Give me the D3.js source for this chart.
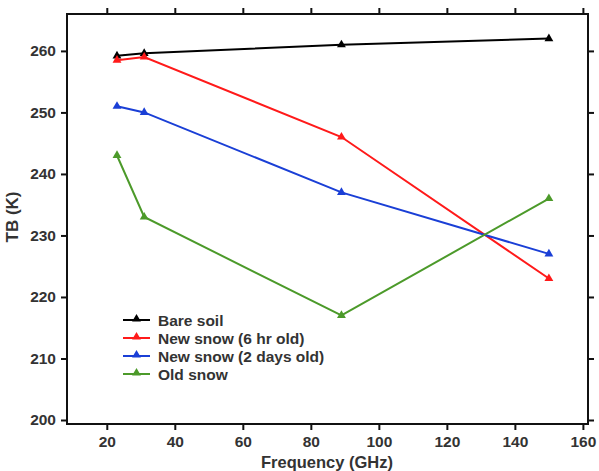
<!DOCTYPE html>
<html>
<head>
<meta charset="utf-8">
<script src="https://cdn.jsdelivr.net/npm/d3@7"></script>
<style>
  body { margin: 0; background: #fff; }
  text { font-family: "Liberation Sans", Arial, sans-serif; font-weight: bold; fill: #333; }
</style>
</head>
<body>
<svg id="chart" width="599" height="471"></svg>
<script>
// frequencies (GHz) and brightness temps
const freqs = [23, 31, 89, 150]
const bareSoil = [259.2, 259.6, 261, 262]
const newSnow6hr = [258.5, 259, 246, 223]
const newSnow2d = [251, 250, 237, 227]
const oldSnow = [243, 233, 217, 236]

const seriesNames = ["Bare soil", "New snow (6 hr old)", "New snow (2 days old)", "Old snow"]
const seriesColors = ["#000000", "#ff1a1a", "#1a3fd6", "#4c9a2a"]
const xTicks = [20, 40, 60, 80, 100, 120, 140, 160]
const yTicks = [200, 210, 220, 230, 240, 250, 260]

const series = [bareSoil, newSnow6hr, newSnow2d, oldSnow].map((vals, i) => ({
  name: seriesNames[i], color: seriesColors[i],
  pts: vals.map((v, j) => [freqs[j], v])
}))

const svg = d3.select("#chart")
const L = 67, R = 588, T = 14, B = 424

const x = d3.scaleLinear().domain([8.3, 161.5]).range([L, R])
const y = d3.scaleLinear().domain([199.35, 266]).range([B, T])

// axes (ticks outward on all four sides)
const axisStyle = g => {
  g.selectAll(".domain").remove()
  g.selectAll(".tick line").attr("stroke", "#111").attr("stroke-width", 2)
  g.selectAll(".tick text").style("font-size", "15.5px").attr("fill", "#333")
}
svg.append("g").attr("transform", `translate(0,${B})`)
  .call(d3.axisBottom(x).tickValues(xTicks).tickSize(6).tickPadding(6))
  .call(axisStyle)
svg.append("g").attr("transform", `translate(0,${T})`)
  .call(d3.axisTop(x).tickValues(xTicks).tickSize(6).tickFormat(""))
  .call(axisStyle)
svg.append("g").attr("transform", `translate(${L},0)`)
  .call(d3.axisLeft(y).tickValues(yTicks).tickSize(6).tickPadding(5))
  .call(axisStyle)
svg.append("g").attr("transform", `translate(${R},0)`)
  .call(d3.axisRight(y).tickValues(yTicks).tickSize(6).tickFormat(""))
  .call(axisStyle)

// frame
svg.append("rect").attr("x", L).attr("y", T).attr("width", R - L).attr("height", B - T)
  .attr("fill", "none").attr("stroke", "#111").attr("stroke-width", 2)

// lines + triangle markers
const line = d3.line().x(d => x(d[0])).y(d => y(d[1]))
const tri = d3.symbol().type(d3.symbolTriangle).size(34)

series.forEach(s => {
  svg.append("path").datum(s.pts).attr("d", line)
    .attr("fill", "none").attr("stroke", s.color).attr("stroke-width", 2)
  svg.append("g").selectAll("path").data(s.pts).enter()
    .append("path").attr("d", tri)
    .attr("transform", d => `translate(${x(d[0])},${y(d[1])})`)
    .attr("fill", s.color)
})

// legend
const leg = svg.append("g").attr("transform", "translate(123,320)")
series.forEach((s, i) => {
  const g = leg.append("g").attr("transform", `translate(0,${i * 18})`)
  g.append("line").attr("x1", 0).attr("x2", 27).attr("stroke", s.color).attr("stroke-width", 2)
  g.append("path").attr("d", tri).attr("transform", "translate(13.5,-1)").attr("fill", s.color)
  g.append("text").attr("x", 35).attr("y", 6).style("font-size", "15.5px").text(s.name)
})

// axis titles
svg.append("text").attr("x", 327).attr("y", 467.5).attr("text-anchor", "middle")
  .style("font-size", "16.5px").text("Frequency (GHz)")
svg.append("text")
  .attr("transform", "translate(18,217) rotate(-90)").attr("text-anchor", "middle")
  .style("font-size", "17px").text("TB (K)")
</script>
</body>
</html>
